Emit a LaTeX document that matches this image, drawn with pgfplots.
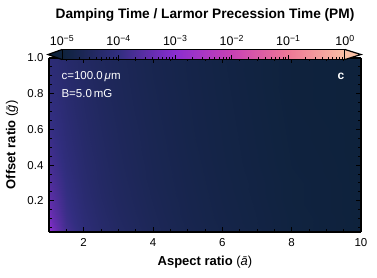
\documentclass[border=0pt]{standalone}
\usepackage{pgfplots}
\pgfplotsset{compat=1.18}
\usepackage{fontspec}
\setmainfont{Liberation Sans}
\begin{document}
\begin{tikzpicture}
\path[use as bounding box] (-49pt,-46pt) rectangle (328pt,232pt);
\begin{axis}[
  at={(0,0)}, anchor=south west,
  scale only axis, width=312pt, height=174pt,
  xmin=1, xmax=10, ymin=0.025, ymax=1,
  view={0}{90},
  font=\fontsize{11.5}{13}\selectfont,
  /pgf/number format/assume math mode=true,
  xtick={2,4,6,8,10}, minor xtick={1.5,2.5,3,3.5,4.5,5,5.5,6.5,7,7.5,8.5,9,9.5},
  ytick={0.2,0.4,0.6,0.8,1.0}, minor ytick={0.05,0.1,0.15,0.25,0.3,0.35,0.45,0.5,0.55,0.65,0.7,0.75,0.85,0.9,0.95},
  yticklabel style={xshift=-2pt, /pgf/number format/.cd, fixed, fixed zerofill, precision=1},
  xticklabel style={yshift=-3pt},
  tick align=inside, tick pos=both,
  xticklabel pos=lower, yticklabel pos=left,
  major tick length=5pt, minor tick length=3pt,
  every tick/.style={black, line width=0.9pt},
  axis line style={line width=1.4pt},
  every axis x label/.style={at={(axis description cs:0.5,-0.172)},anchor=center},
  every axis y label/.style={at={(axis description cs:-0.1186,0.5)},rotate=90,anchor=center},
  xlabel={\fontsize{13}{15}\selectfont\textbf{Aspect ratio} (\textit{ā})},
  ylabel={\fontsize{13}{15}\selectfont\textbf{Offset ratio} (\textit{\=g})},
  colormap={pm}{rgb255(0cm)=(14,34,60); rgb255(1cm)=(50,46,128); rgb255(2cm)=(138,45,208); rgb255(3cm)=(200,65,180); rgb255(4cm)=(238,120,150); rgb255(5cm)=(250,192,165)},
  point meta min=-5, point meta max=0,
  colorbar horizontal,
  colorbar style={
    at={(parent axis.north west)}, anchor=south west,
    xshift=13pt, yshift=7pt,
    scale only axis, width=283pt, height=10pt,
    xtick={-5,-4,-3,-2,-1,0},
    xticklabels={10\textsuperscript{−5},10\textsuperscript{−4},10\textsuperscript{−3},10\textsuperscript{−2},10\textsuperscript{−1},10\textsuperscript{0}},
    minor xtick={-4.699,-4.523,-4.398,-4.301,-4.222,-4.155,-4.097,-4.046,
                 -3.699,-3.523,-3.398,-3.301,-3.222,-3.155,-3.097,-3.046,
                 -2.699,-2.523,-2.398,-2.301,-2.222,-2.155,-2.097,-2.046,
                 -1.699,-1.523,-1.398,-1.301,-1.222,-1.155,-1.097,-1.046,
                 -0.699,-0.523,-0.398,-0.301,-0.222,-0.155,-0.097,-0.046},
    xtick pos=lower, xticklabel pos=upper,
    tick align=inside,
    major tick length=5pt, minor tick length=2.5pt,
    every tick/.style={black, line width=0.8pt},
    xticklabel style={font=\fontsize{12.5}{14}\selectfont, yshift=0pt},
    axis line style={line width=1.2pt},
    after end axis/.code={
      \draw[line width=1.2pt, fill={rgb,255:red,14;green,34;blue,60}] (rel axis cs:0,0) -- ([xshift=-14pt]rel axis cs:0,0.5) -- (rel axis cs:0,1);
      \draw[line width=1.2pt, fill={rgb,255:red,250;green,192;blue,165}] (rel axis cs:1,0) -- ([xshift=16pt]rel axis cs:1,0.5) -- (rel axis cs:1,1);
    },
  },
]
\addplot3[surf, shader=interp, mesh/rows=9, mesh/cols=12] table[x=a, y=g, z=v] {
a g v
1 0.025 -2.70
1.1 0.025 -3.10
1.25 0.025 -3.45
1.5 0.025 -3.80
2 0.025 -4.12
2.5 0.025 -4.30
3 0.025 -4.42
4 0.025 -4.60
5 0.025 -4.72
6 0.025 -4.80
8 0.025 -4.93
10 0.025 -5.04
1 0.05 -2.95
1.1 0.05 -3.22
1.25 0.05 -3.50
1.5 0.05 -3.82
2 0.05 -4.14
2.5 0.05 -4.31
3 0.05 -4.43
4 0.05 -4.60
5 0.05 -4.72
6 0.05 -4.80
8 0.05 -4.94
10 0.05 -5.04
1 0.1 -3.18
1.1 0.1 -3.38
1.25 0.1 -3.60
1.5 0.1 -3.88
2 0.1 -4.17
2.5 0.1 -4.33
3 0.1 -4.45
4 0.1 -4.61
5 0.1 -4.73
6 0.1 -4.81
8 0.1 -4.94
10 0.1 -5.04
1 0.2 -3.45
1.1 0.2 -3.56
1.25 0.2 -3.72
1.5 0.2 -3.95
2 0.2 -4.22
2.5 0.2 -4.37
3 0.2 -4.48
4 0.2 -4.63
5 0.2 -4.74
6 0.2 -4.82
8 0.2 -4.95
10 0.2 -5.05
1 0.3 -3.62
1.1 0.3 -3.70
1.25 0.3 -3.83
1.5 0.3 -4.01
2 0.3 -4.26
2.5 0.3 -4.40
3 0.3 -4.50
4 0.3 -4.65
5 0.3 -4.75
6 0.3 -4.83
8 0.3 -4.95
10 0.3 -5.05
1 0.4 -3.75
1.1 0.4 -3.82
1.25 0.4 -3.92
1.5 0.4 -4.08
2 0.4 -4.29
2.5 0.4 -4.42
3 0.4 -4.52
4 0.4 -4.66
5 0.4 -4.76
6 0.4 -4.84
8 0.4 -4.96
10 0.4 -5.05
1 0.6 -3.92
1.1 0.6 -3.97
1.25 0.6 -4.05
1.5 0.6 -4.17
2 0.6 -4.35
2.5 0.6 -4.46
3 0.6 -4.55
4 0.6 -4.68
5 0.6 -4.78
6 0.6 -4.85
8 0.6 -4.97
10 0.6 -5.06
1 0.8 -4.04
1.1 0.8 -4.08
1.25 0.8 -4.14
1.5 0.8 -4.24
2 0.8 -4.39
2.5 0.8 -4.50
3 0.8 -4.58
4 0.8 -4.70
5 0.8 -4.79
6 0.8 -4.86
8 0.8 -4.98
10 0.8 -5.07
1 1.0 -4.13
1.1 1.0 -4.17
1.25 1.0 -4.22
1.5 1.0 -4.30
2 1.0 -4.43
2.5 1.0 -4.53
3 1.0 -4.60
4 1.0 -4.72
5 1.0 -4.80
6 1.0 -4.87
8 1.0 -4.98
10 1.0 -5.07
};
\node[white, anchor=west, font=\fontsize{11.5}{13}\selectfont] at (axis cs:1.26,0.895) {c=100.0\,\textit{μ}m};
\node[white, anchor=west, font=\fontsize{11.5}{13}\selectfont] at (axis cs:1.26,0.80) {B=5.0\,mG};
\node[white, font=\bfseries\fontsize{12}{13}\selectfont] at (axis cs:9.42,0.9) {c};
\end{axis}
\node[font=\bfseries\fontsize{13.7}{15}\selectfont] at (156pt,217pt) {Damping Time / Larmor Precession Time (PM)};
\end{tikzpicture}
\end{document}
